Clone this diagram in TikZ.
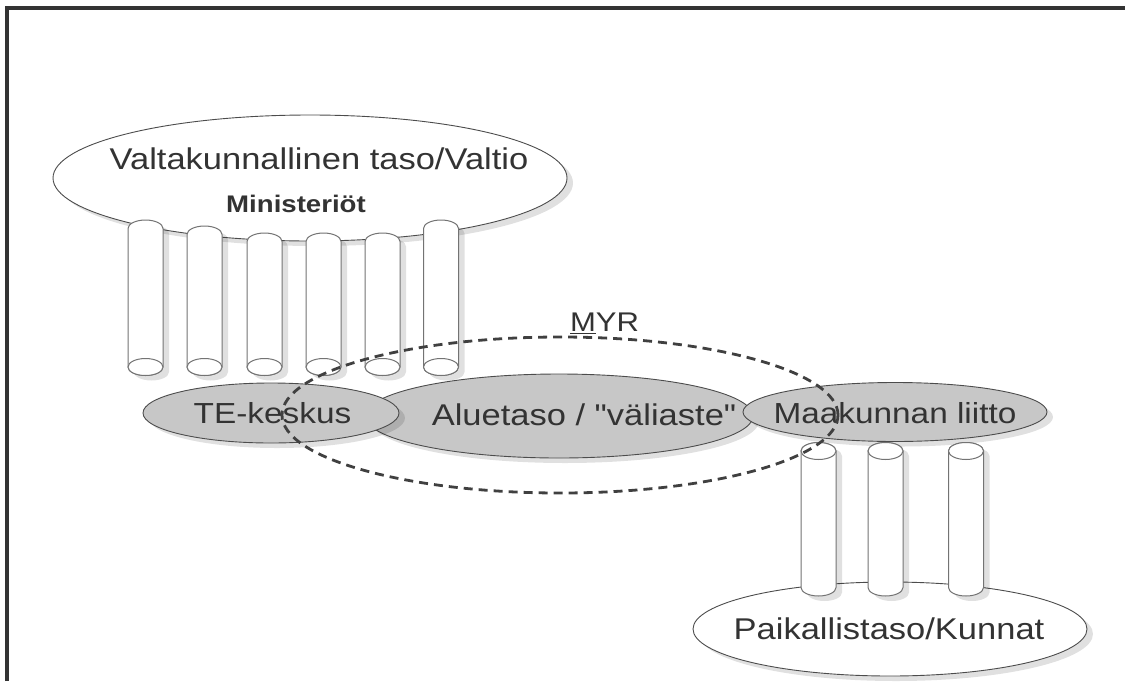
\documentclass[tikz,border=0pt]{standalone}
\usepackage{fontspec}
\setmainfont{Liberation Sans}[FakeStretch=1.15,Ligatures=TeXOff]
\usetikzlibrary{shapes.geometric,shadows}

\begin{document}
\begin{tikzpicture}[x=1pt,y=1pt,
	softshadow/.style={drop shadow={shadow xshift=6pt,shadow yshift=-5pt,fill=black,opacity=0.12}},
	tier/.style={ellipse,draw=black!70,line width=0.9pt,fill=white,inner sep=0pt,softshadow},
	region/.style={tier,fill=black!22},
	pillar/.style={fill=white,draw=black!55,line width=1pt,softshadow},
	pillarcap/.style={fill=white,draw=black!55,line width=1pt},
	lbl/.style={anchor=base,inner sep=0pt,text=black!80,font=\fontsize{29}{34}\selectfont},
	myrring/.style={ellipse,draw=black!75,line width=2.8pt,dash pattern=on 9pt off 6pt,
		minimum width=556pt,minimum height=156pt,inner sep=0pt},
	frame/.style={draw=black!80,line width=3.5pt}
	]
	\useasboundingbox (0,0) rectangle (1125,-681);

	% national level
	\node[tier,minimum width=514pt,minimum height=126pt] (state) at (310,-178) {};
	\node[lbl,font=\fontsize{30}{36}\selectfont] (statetxt) at ([xshift=9pt,yshift=9pt]state.center) {Valtakunnallinen taso/Valtio};
	\node[lbl,font=\bfseries\fontsize{24}{28}\selectfont] (minis) at ([xshift=-14pt,yshift=-34pt]state.center) {Ministeriöt};
	\foreach \cx/\ty in {145.5/220,204.5/226,264.5/233,323.5/233,382.5/233,441/220}{
		\path[pillar] (\cx-17.5,-\ty-8.5) arc[start angle=180,end angle=0,x radius=17.5,y radius=8.5]
			-- (\cx+17.5,-367) arc[start angle=0,end angle=-180,x radius=17.5,y radius=8.5] -- cycle;
		\draw[pillarcap] (\cx,-367) ellipse[x radius=17.5,y radius=8.5];
	}

	% regional level
	\node[region,minimum width=388pt,minimum height=84pt] (alue) at (559,-416) {};
	\node[region,minimum width=256pt,minimum height=60pt] (te) at (271,-413) {};
	\node[region,minimum width=304pt,minimum height=59pt] (maak) at (895,-412) {};
	\node[lbl] (tetxt) at ([xshift=1.5pt,yshift=-10pt]te.center) {TE-keskus};
	\node[lbl,font=\fontsize{30}{35}\selectfont] (aluetxt) at ([xshift=25pt,yshift=-9pt]alue.center) {Aluetaso / "väliaste"};
	\node[lbl] (maaktxt) at ([yshift=-11pt]maak.center) {Maakunnan liitto};

	% local level
	\node[tier,minimum width=394pt,minimum height=94pt] (kunnat) at (890,-629) {};
	\node[lbl,font=\fontsize{30}{36}\selectfont] (kunnattxt) at ([xshift=-1pt,yshift=-10pt]kunnat.center) {Paikallistaso/Kunnat};
	\foreach \cx in {818.5,885.5,966}{
		\path[pillar] (\cx-17.5,-451) -- (\cx-17.5,-587.5)
			arc[start angle=180,end angle=360,x radius=17.5,y radius=8.5]
			-- (\cx+17.5,-451) arc[start angle=0,end angle=180,x radius=17.5,y radius=8.5] -- cycle;
		\draw[pillarcap] (\cx,-451) ellipse[x radius=17.5,y radius=8.5];
	}

	% MYR
	\node[myrring] (myr) at (560,-415) {};
	\node[lbl,font=\fontsize{27}{32}\selectfont] (myrtxt) at ([xshift=44.5pt,yshift=4pt]myr.north) {\underline{M}YR};

	\draw[frame] (7,-681) -- (7,-8) -- (1125,-8);
\end{tikzpicture}
\end{document}
